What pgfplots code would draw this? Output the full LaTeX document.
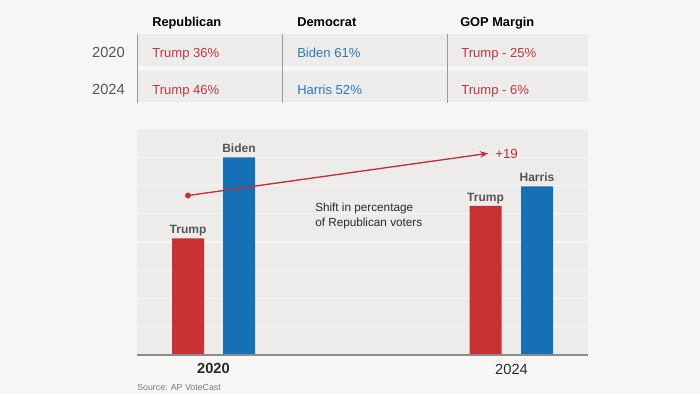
\documentclass[border=0pt]{standalone}
\usepackage{pgfplots}
\pgfplotsset{compat=1.18}
\usepackage{fontspec}
\setmainfont{Liberation Sans}
\usetikzlibrary{arrows.meta}
\definecolor{bg}{HTML}{F8F6F5}
\definecolor{panel}{HTML}{EEECEB}
\definecolor{rowbg}{HTML}{EEECEB}
\definecolor{gridc}{HTML}{F8F6F5}
\definecolor{rep}{HTML}{C83034}
\definecolor{dem}{HTML}{1570B5}
\definecolor{reptext}{HTML}{C2363D}
\definecolor{demtext}{HTML}{2B78B5}
\definecolor{lbl}{HTML}{555555}
\definecolor{dark}{HTML}{2A2A2A}
\definecolor{divider}{HTML}{9A9A9A}
\definecolor{basec}{HTML}{8C8C8C}
\definecolor{arrowred}{HTML}{C0303A}
\begin{document}
\begin{tikzpicture}
\begin{scope}[x=0.75pt,y=-0.75pt]
\fill[bg] (0,0) rectangle (700,394);
\fill[rowbg] (138,34) rectangle (588,66);
\fill[rowbg] (138,71) rectangle (588,102);
\draw[divider, line width=0.75pt] (137,34) -- (137,103);
\draw[divider, line width=0.75pt] (282,34) -- (282,103);
\draw[divider, line width=0.75pt] (447,34) -- (447,103);
\end{scope}
\begin{axis}[at={(137*0.75pt,-355*0.75pt)}, anchor=south west, scale only axis,
  width=338.25pt, height=169.5pt, xmin=137, xmax=588, ymin=0, ymax=69.714,
  axis line style={draw=none}, xtick=\empty,
  ytick={8.714,17.429,26.143,34.857,43.571,52.286,61}, yticklabels={},
  major tick length=0, ymajorgrids, grid style={color=gridc, line width=0.9pt},
  axis background/.style={fill=panel}, clip=false]
\addplot[ybar, bar shift=0pt, bar width=32, fill=rep, draw=none] coordinates {(188,36) (485.5,46)};
\addplot[ybar, bar shift=0pt, bar width=32, fill=dem, draw=none] coordinates {(239,61) (537,52)};
\draw[basec, line width=1.5pt] (rel axis cs:0,0) -- (rel axis cs:1,0);
\addplot[arrowred, line width=1pt, -{Stealth[length=6pt,width=5pt]}] coordinates {(188,49.2) (488,62.2)};
\addplot[only marks, mark=*, mark size=2pt, arrowred] coordinates {(188,49.2)};
\end{axis}
\begin{scope}[x=0.75pt,y=-0.75pt]
% table header
\node[anchor=base west, inner sep=0, font=\fontsize{9.6}{11}\selectfont\bfseries, text=black] at (152,26) {Republican};
\node[anchor=base west, inner sep=0, font=\fontsize{9.6}{11}\selectfont\bfseries, text=black] at (297,26) {Democrat};
\node[anchor=base west, inner sep=0, font=\fontsize{9.6}{11}\selectfont\bfseries, text=black] at (460,26) {GOP Margin};
% rows
\node[anchor=base east, inner sep=0, font=\fontsize{11}{13}\selectfont, text=lbl] at (125,57) {2020};
\node[anchor=base east, inner sep=0, font=\fontsize{11}{13}\selectfont, text=lbl] at (125,94) {2024};
\node[anchor=base west, inner sep=0, font=\fontsize{9.8}{12}\selectfont, text=reptext] at (152,57) {Trump 36\%};
\node[anchor=base west, inner sep=0, font=\fontsize{9.8}{12}\selectfont, text=demtext] at (297,57) {Biden 61\%};
\node[anchor=base west, inner sep=0, font=\fontsize{9.8}{12}\selectfont, text=reptext] at (461,57) {Trump - 25\%};
\node[anchor=base west, inner sep=0, font=\fontsize{9.8}{12}\selectfont, text=reptext] at (152,94) {Trump 46\%};
\node[anchor=base west, inner sep=0, font=\fontsize{9.8}{12}\selectfont, text=demtext] at (297,94) {Harris 52\%};
\node[anchor=base west, inner sep=0, font=\fontsize{9.8}{12}\selectfont, text=reptext] at (461,94) {Trump - 6\%};
% bar labels
\node[anchor=base, inner sep=0, font=\fontsize{9}{11}\selectfont\bfseries, text=lbl] at (188,233.3) {Trump};
\node[anchor=base, inner sep=0, font=\fontsize{9}{11}\selectfont\bfseries, text=lbl] at (239,152.3) {Biden};
\node[anchor=base, inner sep=0, font=\fontsize{9}{11}\selectfont\bfseries, text=lbl] at (485.5,201.7) {Trump};
\node[anchor=base, inner sep=0, font=\fontsize{9}{11}\selectfont\bfseries, text=lbl] at (537,181) {Harris};
\node[anchor=base west, inner sep=0, font=\fontsize{10}{12}\selectfont, text=arrowred] at (495,158.3) {+19};
\node[anchor=base west, inner sep=0, font=\fontsize{8.8}{11}\selectfont, text=dark] at (315,211) {Shift in percentage};
\node[anchor=base west, inner sep=0, font=\fontsize{8.8}{11}\selectfont, text=dark] at (315,226) {of Republican voters};
% years
\node[anchor=base, inner sep=0, font=\fontsize{11}{13}\selectfont\bfseries, text=dark] at (213.5,373.5) {2020};
\node[anchor=base, inner sep=0, font=\fontsize{11}{13}\selectfont, text=dark] at (511.5,374) {2024};
\node[anchor=base west, inner sep=0, font=\fontsize{6.6}{8}\selectfont, text=lbl!80!white] at (137,390) {Source: AP VoteCast};
\end{scope}
\end{tikzpicture}
\end{document}
